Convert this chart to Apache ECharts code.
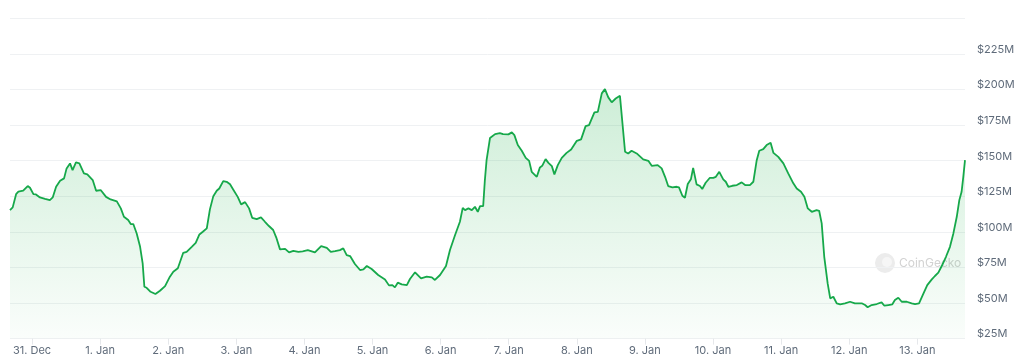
<!DOCTYPE html>
<html>
<head>
<meta charset="utf-8">
<script src="https://cdn.jsdelivr.net/npm/echarts@6/dist/echarts.min.js"></script>
<style>
html,body{margin:0;padding:0;background:#fff;}
#c{width:1024px;height:364px;}
</style>
</head>
<body>
<div id="c"></div>
<script>
// Hours relative to 31 Dec 00:00 (local time)
const hoursFromDec31 = [
-7.75,-6.8,-5.6,-4.8,-3.1,-1.5,-0.7,0.5,1.4,2.8,4.6,6.3,7.3,8.5,9.9,11.3,12.2,13.4,14.3,15.5,
16.7,18.3,19.5,21.4,22.6,24.2,26.1,27.7,29.9,31.3,32.4,33.9,34.8,35.7,36.9,38.1,39.0,39.6,40.4,41.8,
43.5,45.1,46.9,
48.6,49.8,51.4,53.3,54.5,56.3,57.7,59.0,60.2,61.6,62.7,63.9,65.1,66.0,67.4,68.6,69.8,70.9,72.5,73.7,
75.1,76.5,77.6,79.2,80.7,82.1,83.5,85.0,86.2,87.4,89.2,90.6,92.1,93.9,95.4,97.2,99.7,101.9,103.9,105.3,
106.8,108.5,
109.7,110.9,112.1,113.8,115.6,116.8,118.0,119.7,122.0,124.4,125.8,127.0,127.9,128.9,130.3,132.1,133.2,135.0,137.1,139.1,
140.9,142.0,143.8,145.9,147.3,149.1,150.8,151.8,152.6,153.8,155.0,156.1,157.1,157.9,159.0,159.6,160.2,
161.4,163.2,164.9,166.0,
166.7,167.9,169.1,170.0,171.2,172.6,174.0,175.2,176.1,177.9,179.0,179.8,181.0,182.0,183.2,184.1,185.3,186.7,188.4,190.0,
192.0,193.5,195.1,196.3,198.2,199.4,200.8,201.9,203.1,204.3,205.7,207.2,209.0,210.1,211.3,213.1,215.4,217.2,218.4,220.5,
221.9,223.1,224.2,225.7,227.2,
228.0,229.2,230.1,231.1,232.2,233.0,234.2,235.4,236.2,237.4,238.9,240.1,241.0,242.2,243.6,244.5,245.4,246.8,248.4,250.1,
251.3,253.0,254.2,255.4,256.3,257.7,258.9,260.3,261.3,263.0,264.8,266.5,268.3,269.5,271.0,272.2,273.4,274.8,276.5,277.4,
278.3,279.2,280.4,281.3,282.4,283.6,284.8,286.5,288.3,
290.0,292.4,293.6,294.5,295.9,297.7,299.4,300.4,301.8,303.2,304.1,305.3,306.5,308.3,310.0,311.2,312.6,313.9,315.5,317.1,
318.2,319.4,320.6,322.1,323.5,324.7,325.9,326.8,327.6,328.2,328.8
];

// Volume in millions of USD
const volumeM = [
115.3,117.2,126.5,128.2,128.9,132.2,131.0,126.5,126.3,124.2,123.2,122.3,124.2,131.7,135.9,137.6,144.6,148.1,143.4,148.8,
148.1,141.1,140.4,136.4,128.9,129.4,124.6,122.8,121.4,116.5,110.6,108.3,105.5,105.5,98.9,89.5,77.9,61.4,60.7,57.9,
56.3,58.6,61.9,
68.5,72.0,74.4,85.3,86.0,89.5,92.3,98.2,100.1,102.5,115.8,125.1,128.9,130.5,135.7,135.2,133.4,129.8,124.6,119.3,
120.9,116.5,109.9,109.0,110.2,107.1,104.1,101.3,95.4,87.7,88.1,85.6,86.7,86.0,86.3,87.2,85.6,90.0,88.8,86.0,
86.5,87.2,
88.4,83.7,83.0,77.4,73.2,73.7,76.0,73.9,69.7,66.6,62.4,62.6,61.0,64.3,63.1,62.6,66.9,71.6,67.3,68.5,
68.0,66.2,69.7,76.0,87.2,97.8,107.1,116.9,115.3,116.5,115.3,117.6,114.1,118.1,118.1,136.4,150.4,
165.9,168.7,169.4,168.7,
169.2,168.5,169.9,168.0,161.0,157.0,152.0,149.9,142.2,138.7,145.3,146.4,151.1,148.5,146.2,140.4,146.9,152.0,155.5,157.9,
164.0,165.0,174.3,175.0,183.9,184.3,197.3,200.3,194.5,191.0,193.7,195.6,156.3,155.1,157.0,155.1,150.9,149.9,146.4,146.9,
144.6,138.7,132.2,131.3,131.7,
131.3,125.4,124.0,133.6,136.9,145.0,133.4,132.2,130.1,134.5,138.0,138.0,138.7,142.2,136.9,135.2,131.7,132.4,132.9,134.8,
132.9,132.9,135.2,150.4,157.0,158.1,161.0,162.6,155.5,152.7,148.1,141.1,134.1,130.5,128.2,124.6,116.5,114.1,115.3,114.8,
106.0,82.5,63.8,53.3,54.4,49.8,49.1,49.8,50.9,
49.8,49.8,48.6,47.0,48.6,49.3,50.5,48.1,48.6,49.1,52.1,53.7,50.9,50.9,49.8,49.3,49.8,55.6,62.6,66.6,
69.0,71.3,76.0,82.5,89.5,98.9,110.6,122.3,128.2,138.7,150.4
];

const monthNames = ['Jan','Feb','Mar','Apr','May','Jun','Jul','Aug','Sep','Oct','Nov','Dec'];
const yTickValues = [25,50,75,100,125,150,175,200,225,250];

const HOUR = 3600 * 1000;
const base = new Date(2023, 11, 31, 0, 0, 0).getTime();
const seriesData = hoursFromDec31.map((h, i) => [base + h * HOUR, volumeM[i]]);

const chart = echarts.init(document.getElementById('c'), null, {renderer: 'canvas'});
const labelFont = 'Inter, "Noto Sans", sans-serif';

chart.setOption({
  animation: false,
  backgroundColor: '#ffffff',
  grid: {left: 10, right: 59, top: 18.4, bottom: 25.4, containLabel: false},
  xAxis: {
    type: 'time',
    min: base + hoursFromDec31[0] * HOUR,
    max: base + hoursFromDec31[hoursFromDec31.length - 1] * HOUR,
    minInterval: 24 * HOUR,
    maxInterval: 24 * HOUR,
    axisLine: {show: false},
    axisTick: {show: true, length: 6, lineStyle: {color: '#e6e8eb'}},
    splitLine: {show: false},
    axisLabel: {
      color: '#5f6b7a',
      fontSize: 11,
      fontFamily: labelFont,
      margin: 7,
      formatter: function (v) {
        const d = new Date(v);
        return d.getDate() + '. ' + monthNames[d.getMonth()];
      }
    }
  },
  yAxis: {
    type: 'value',
    position: 'right',
    min: yTickValues[0],
    max: yTickValues[yTickValues.length - 1],
    interval: 25,
    axisLine: {show: false},
    axisTick: {show: false},
    splitLine: {show: true, lineStyle: {color: '#eff1f3', width: 1}},
    axisLabel: {
      color: '#5f6b7a',
      fontSize: 11,
      fontFamily: labelFont,
      margin: 12,
      verticalAlign: 'bottom',
      lineHeight: 9,
      formatter: function (v) {
        return v === yTickValues[yTickValues.length - 1] ? '' : '$' + v + 'M';
      }
    }
  },
  graphic: [
    {type: 'circle', z: 0, shape: {cx: 885, cy: 263, r: 10}, style: {fill: '#ececec'}},
    {type: 'circle', z: 0, shape: {cx: 887, cy: 262, r: 5}, style: {fill: '#f6f6f6'}},
    {type: 'text', z: 0, x: 899, y: 263, style: {text: 'CoinGecko', fill: '#d2d2d2', fontSize: 12, fontFamily: labelFont, verticalAlign: 'middle', align: 'left'}}
  ],
  series: [{
    type: 'line',
    data: seriesData,
    showSymbol: false,
    smooth: false,
    z: 5,
    lineStyle: {color: '#16a84a', width: 1.8},
    areaStyle: {
      color: new echarts.graphic.LinearGradient(0, 0, 0, 1, [
        {offset: 0, color: 'rgba(34,177,76,0.32)'},
        {offset: 1, color: 'rgba(34,177,76,0.03)'}
      ])
    }
  }]
});
</script>
</body>
</html>
